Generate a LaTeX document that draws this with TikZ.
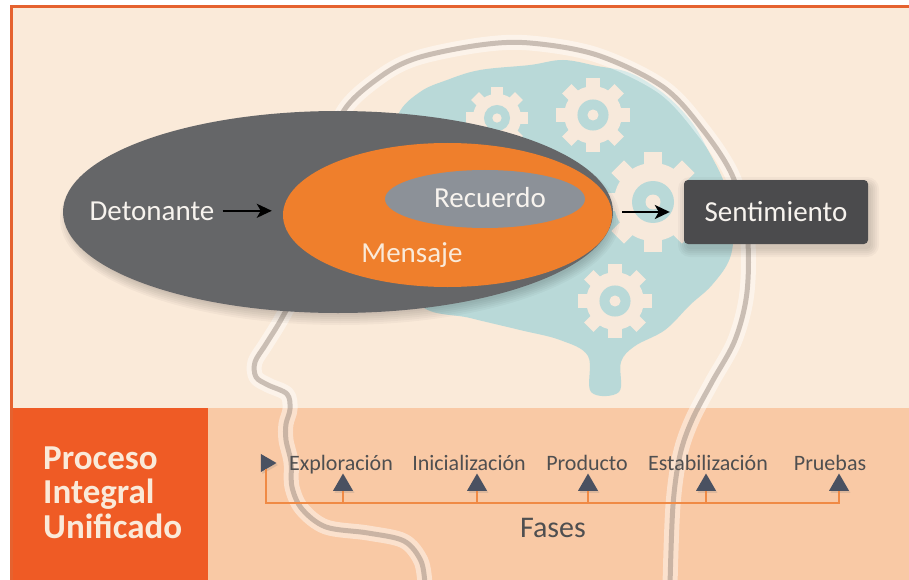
\documentclass[tikz,border=0pt]{standalone}
\usepackage{fontspec}
\setmainfont{Carlito}
\usetikzlibrary{shapes.geometric,arrows.meta,shadows,calc}

\definecolor{paper}{HTML}{FAEAD9}
\definecolor{frameor}{HTML}{E5622F}
\definecolor{bandpeach}{HTML}{F9C9A5}
\definecolor{piuorange}{HTML}{EF5B25}
\definecolor{braincol}{HTML}{B9D9D8}
\definecolor{gearcol}{HTML}{F7E9DB}
\definecolor{headcol}{HTML}{8F7F73}
\definecolor{trigcol}{HTML}{656668}
\definecolor{msgcol}{HTML}{EF7F2C}
\definecolor{reccol}{HTML}{8C9198}
\definecolor{boxcol}{HTML}{4B4B4D}
\definecolor{lightext}{HTML}{F7F3EE}
\definecolor{labelgray}{HTML}{4F4F50}
\definecolor{markcol}{HTML}{4A5161}
\definecolor{railcol}{HTML}{F08A45}

% a cogwheel: centre (#1,#2), outer radius #3
\newcommand\gearAt[3]{%
  \begin{scope}[shift={(#1,#2)}]
    \fill[gearcol] (0,0) circle[radius=0.78*#3];
    \foreach \a in {0,45,...,315}{%
      \fill[gearcol,rotate=\a] (-0.18*#3,0) rectangle (0.18*#3,#3);}
    \fill[braincol] (0,0) circle[radius=0.42*#3];
    \fill[gearcol] (0,0) circle[radius=0.15*#3];
  \end{scope}}

\begin{document}
\begin{tikzpicture}[x=1pt,y=-1pt,
  ovaltext/.style={anchor=base,inner sep=0,text=lightext,font=\fontsize{29}{32}\selectfont},
  arr/.style={-{Stealth[length=15pt,width=14pt,inset=4pt]},line width=2.2pt,black},
  lbl/.style={anchor=base,inner sep=0,text=labelgray,font=\fontsize{22}{26}\selectfont},
  upmark/.style={regular polygon,regular polygon sides=3,minimum size=23pt,inner sep=0,
    fill=markcol,drop shadow={opacity=0.22,shadow xshift=1.5pt,shadow yshift=-2pt}},
  playmark/.style={upmark,regular polygon rotate=-90,minimum size=21pt},
  rail/.style={railcol,line width=2pt},
  piutext/.style={anchor=base west,inner sep=0,text=paper,font=\bfseries\fontsize{35}{35}\selectfont},
  headline/.style={line width=5pt,headcol,opacity=0.45,line cap=round,line join=round},
  halo/.style={line width=15pt,white,opacity=0.45,line cap=round,line join=round},
  softshade/.style={black,opacity=0.03}
]
\useasboundingbox (0,0) rectangle (909,580);
\fill[white] (0,0) rectangle (909,580);

% framed page
\fill[paper] (11,7) rectangle (909,580);
\fill[bandpeach] (208,408) rectangle (909,580);
\fill[piuorange] (11,408) rectangle (208,580);
\draw[frameor,line width=3pt] (11,580) -- (11,7) -- (909,7);

% brain with cogwheels
\fill[braincol] plot[smooth cycle,tension=0.6] coordinates {
  (398,115) (420,92) (447,80) (480,70) (530,65) (563,60) (597,66) (630,73)
  (663,93) (690,120) (708,150) (725,185) (733,225) (730,258) (712,285)
  (690,305) (665,330) (635,346) (621,362) (619,392) (591,392) (588,356)
  (560,340) (520,330) (470,318) (420,305) (395,250) (390,160)};
\gearAt{497}{118}{31}
\gearAt{593}{115}{37}
\gearAt{653}{202}{50}
\gearAt{615}{301}{37}

% head profile
\def\headpath{plot[smooth,tension=0.55] coordinates {
  (425,585) (421,561) (404,541) (368,533) (326,527) (302,509) (292,487)
  (291,462) (286,440) (286,424) (290,409) (287,394) (268,385) (256,377)
  (255,362) (266,344) (283,316) (305,270) (325,170) (343,112) (380,77)
  (417,58) (480,45) (530,43) (597,55) (663,87) (703,130) (733,177)
  (747,232) (747,292) (735,340) (712,382) (692,420) (680,455) (673,505)
  (670,585)}}
\draw[halo] \headpath;
\draw[headline] \headpath;

% soft shadow under the trigger oval
\foreach \k in {0,2,...,10}
  \fill[softshade] (340,219) ellipse [x radius=270+\k, y radius=96+\k];

% trigger, message and memory ovals
\node[ellipse,fill=trigcol,minimum width=550pt,minimum height=202pt,inner sep=0]
  (trig) at (338,212) {};
\node[ellipse,fill=msgcol,minimum width=329pt,minimum height=144pt,inner sep=0]
  (msg) at (447.5,215) {};
\node[ellipse,fill=reccol,minimum width=200pt,minimum height=58pt,inner sep=0]
  (rec) at (485,199) {};
\node[ovaltext] (det) at (152,220) {Detonante};
\node[ovaltext] (rect) at (490,207) {Recuerdo};
\node[ovaltext,text=paper] (mens) at (412,262) {Mensaje};

% soft shadow under the feeling box
\foreach \k in {0,2,...,8}
  \fill[softshade,rounded corners=4pt+\k] (686-\k,185-\k) rectangle (871+\k,249+\k);

% feeling box
\node[rectangle,rounded corners=4pt,fill=boxcol,minimum width=184pt,minimum height=64pt,
  text=lightext,font=\fontsize{29}{32}\selectfont,inner sep=0]
  (sent) at (776,212) {Sentimiento};

\draw[arr,shorten <=8pt,shorten >=11pt] (det.east) -- (det.east -| msg.west);
\draw[arr,shorten <=10pt,shorten >=14pt] (sent.west -| msg.east) -- (sent.west);

% unified process title
\node[piutext] (piu1) at (43,469) {Proceso};
\node[piutext] (piu2) at (43,503) {Integral};
\node[piutext] (piu3) at (43,538) {Unificado};

% phase timeline
\node[lbl] (l1) at (341,470) {Exploración};
\node[lbl] (l2) at (469,470) {Inicialización};
\node[lbl] (l3) at (587,470) {Producto};
\node[lbl] (l4) at (708,470) {Estabilización};
\node[lbl] (l5) at (830,470) {Pruebas};

\coordinate (railrow) at (0,503);
\node[playmark] (p0) at (266,463) {};
\node[upmark] (t1) at (343,485) {};
\node[upmark] (t2) at (477,485) {};
\node[upmark] (t3) at (588,485) {};
\node[upmark] (t4) at (706,485) {};
\node[upmark] (t5) at (839,485) {};

\draw[rail] (p0.south) -- (p0.south |- railrow) -- (t5.south |- railrow) -- (t5.south);
\foreach \t in {t1,t2,t3,t4}{\draw[rail] (\t.south) -- (\t.south |- railrow);}

\node[lbl,font=\fontsize{30}{34}\selectfont] (fases) at (553,537) {Fases};
\end{tikzpicture}
\end{document}
